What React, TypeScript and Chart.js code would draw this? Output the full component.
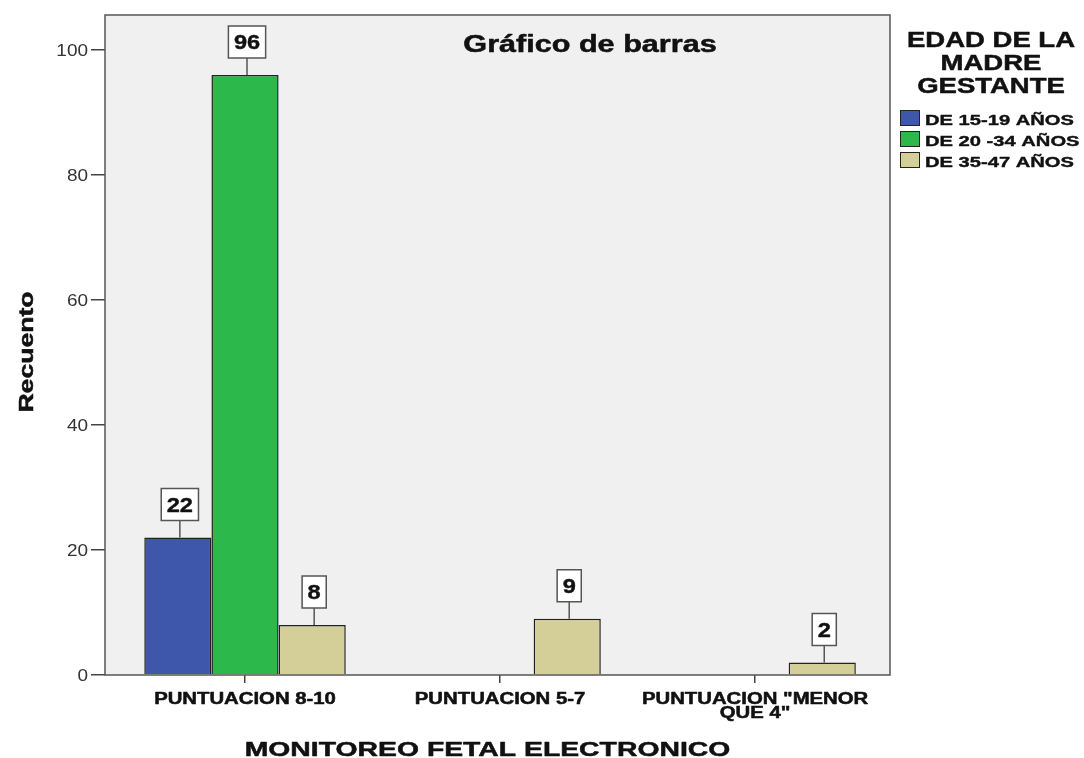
import React, { useEffect, useRef } from "react";
import { Chart, registerables, CategoryScale } from "chart.js";

Chart.register(...registerables);

// Category scale with SPSS-like uneven outer padding (in category units)
class PaddedCategoryScale extends (CategoryScale as any) {
  static id = "paddedCategory";
  static defaults = (CategoryScale as any).defaults;
  configure() {
    super.configure();
    const o = (this as any).options;
    const padStart = o.padStart ?? 0.5;
    const padEnd = o.padEnd ?? 0.5;
    (this as any)._startValue = (this as any).min - padStart;
    (this as any)._valueRange = (this as any).max - (this as any).min + padStart + padEnd;
  }
}
Chart.register(PaddedCategoryScale as any);

const categories: string[][] = [
  ["PUNTUACION 8-10"],
  ["PUNTUACION 5-7"],
  ['PUNTUACION "MENOR', 'QUE 4"'],
];
const seriesNames = ["DE 15-19 AÑOS", "DE 20 -34 AÑOS", "DE 35-47 AÑOS"];
const age15to19: (number | null)[] = [22, null, null];
const age20to34: (number | null)[] = [96, null, null];
const age35to47: (number | null)[] = [8, 9, 2];
const seriesColors = ["#3e57ab", "#2db84b", "#d4cf98"];
const yTicks = [0, 20, 40, 60, 80, 100];
const chartTitle = "Gráfico de barras";
const legendTitle = ["EDAD DE LA", "MADRE", "GESTANTE"];
const xTitle = "MONITOREO FETAL ELECTRONICO";
const yTitle = "Recuento";

const FONT = "'Liberation Sans', Arial, sans-serif";

function stretchText(
  ctx: CanvasRenderingContext2D,
  text: string,
  x: number,
  y: number,
  sx: number,
  align: CanvasTextAlign,
  baseline: CanvasTextBaseline = "alphabetic",
  heavy = 0
) {
  ctx.save();
  ctx.translate(x, y);
  ctx.scale(sx, 1);
  ctx.textAlign = align;
  ctx.textBaseline = baseline;
  ctx.fillText(text, 0, 0);
  if (heavy > 0) {
    ctx.strokeStyle = ctx.fillStyle as string;
    ctx.lineWidth = heavy;
    ctx.lineJoin = "round";
    ctx.strokeText(text, 0, 0);
  }
  ctx.restore();
}

const decorPlugin = {
  id: "decor",
  beforeDraw(chart: any) {
    const { ctx, chartArea: a } = chart;
    ctx.save();
    ctx.fillStyle = "#f0f0f0";
    ctx.fillRect(a.left, a.top, a.right - a.left, a.bottom - a.top);
    ctx.restore();
  },
  afterDraw(chart: any) {
    const { ctx, chartArea: a } = chart;
    const xs = chart.scales.x;
    const ys = chart.scales.y;
    ctx.save();
    // plot frame
    ctx.strokeStyle = "#555";
    ctx.lineWidth = 1.5;
    ctx.strokeRect(a.left, a.top, a.right - a.left, a.bottom - a.top);

    // title inside plot
    ctx.fillStyle = "#111";
    ctx.font = `bold 23px ${FONT}`;
    stretchText(ctx, chartTitle, 590, 52, 1.33, "center", "alphabetic", 0.5);

    // y tick labels
    ctx.fillStyle = "#333";
    ctx.font = `16.5px ${FONT}`;
    ys.ticks.forEach((t: any, i: number) => {
      stretchText(ctx, String(t.value), 88, ys.getPixelForTick(i) + 1.5, 1.15, "right", "middle");
    });

    // x tick labels
    ctx.fillStyle = "#111";
    ctx.font = `bold 16px ${FONT}`;
    (chart.data.labels as string[][]).forEach((lines, i) => {
      const px = xs.getPixelForTick(i);
      lines.forEach((l, j) => stretchText(ctx, l, px, 704 + j * 14, 1.27, "center", "alphabetic", 0.5));
    });

    // axis titles
    ctx.font = `bold 21px ${FONT}`;
    stretchText(ctx, xTitle, (a.left + a.right) / 2 - 10, 756, 1.35, "center", "alphabetic", 0.5);
    ctx.save();
    ctx.translate(33, (a.top + a.bottom) / 2 + 7);
    ctx.rotate(-Math.PI / 2);
    ctx.font = `bold 20px ${FONT}`;
    stretchText(ctx, yTitle, 0, 0, 1.33, "center", "alphabetic", 0.5);
    ctx.restore();

    // callouts
    chart.data.datasets.forEach((ds: any, di: number) => {
      const meta = chart.getDatasetMeta(di);
      meta.data.forEach((bar: any, i: number) => {
        const v = ds.data[i];
        if (v === null || v === undefined) return;
        const txt = String(v);
        ctx.font = `bold 20px ${FONT}`;
        const tw = ctx.measureText(txt).width * 1.18;
        const w = tw + 11;
        const h = 32;
        const cx = bar.x + 2;
        const bottom = bar.y - 17;
        ctx.strokeStyle = "#555";
        ctx.lineWidth = 1.5;
        ctx.beginPath();
        ctx.moveTo(cx, bar.y);
        ctx.lineTo(cx, bottom);
        ctx.stroke();
        ctx.fillStyle = "#fff";
        ctx.fillRect(cx - w / 2, bottom - h, w, h);
        ctx.strokeRect(cx - w / 2, bottom - h, w, h);
        ctx.fillStyle = "#111";
        stretchText(ctx, txt, cx, bottom - 9, 1.18, "center", "alphabetic", 0.4);
      });
    });

    // legend
    ctx.fillStyle = "#111";
    ctx.font = `bold 22px ${FONT}`;
    legendTitle.forEach((l, i) => stretchText(ctx, l, 991, 47 + i * 23, 1.25, "center", "alphabetic", 0.5));
    chart.data.datasets.forEach((ds: any, i: number) => {
      const base = 125 + i * 21;
      ctx.fillStyle = ds.backgroundColor;
      ctx.fillRect(900, base - 15, 19, 15);
      ctx.strokeStyle = "#222";
      ctx.lineWidth = 1;
      ctx.strokeRect(900.5, base - 14.5, 19, 15);
      ctx.fillStyle = "#111";
      ctx.font = `bold 15.5px ${FONT}`;
      stretchText(ctx, ds.label, 925, base, 1.3, "left", "alphabetic", 0.4);
    });
    ctx.restore();
  },
};

function App() {
  const ref = useRef<HTMLCanvasElement | null>(null);
  useEffect(() => {
    document.body.style.margin = "0";
    const series = [age15to19, age20to34, age35to47];
    const chart = new Chart(ref.current as HTMLCanvasElement, {
      type: "bar",
      data: {
        labels: categories,
        datasets: series.map((d, i) => ({
          label: seriesNames[i],
          data: d,
          backgroundColor: seriesColors[i],
          borderColor: "#222",
          borderWidth: 1.5,
          barPercentage: 1.0,
          categoryPercentage: 0.79,
        })),
      },
      options: {
        animation: false,
        responsive: false,
        maintainAspectRatio: false,
        layout: { padding: { left: 0, top: 15, right: 194, bottom: 0 } },
        plugins: {
          legend: { display: false },
          tooltip: { enabled: false },
        },
        scales: {
          x: {
            type: "paddedCategory",
            offset: true,
            padStart: 0.549,
            padEnd: 0.529,
            afterFit(scale: any) {
              scale.height = 83;
            },
            grid: {
              offset: false,
              drawOnChartArea: false,
              tickLength: 8,
              color: "#444",
              lineWidth: 1.5,
            },
            border: { display: false },
            ticks: { display: false },
            title: { display: false },
          },
          y: {
            min: 0,
            max: 105.6,
            afterFit(scale: any) {
              scale.width = 105;
            },
            afterBuildTicks(scale: any) {
              scale.ticks = yTicks.map((v) => ({ value: v }));
            },
            grid: {
              drawOnChartArea: false,
              tickLength: 14,
              color: "#444",
              lineWidth: 1.5,
            },
            border: { display: false },
            ticks: { display: false },
            title: { display: false },
          },
        },
      },
      plugins: [decorPlugin],
    } as any);
    return () => chart.destroy();
  }, []);
  return (
    <div style={{ position: "absolute", left: 0, top: 0, width: 1084, height: 758, background: "#fff" }}>
      <canvas ref={ref} width={1084} height={758} style={{ width: 1084, height: 758 }} />
    </div>
  );
}

export default App;
